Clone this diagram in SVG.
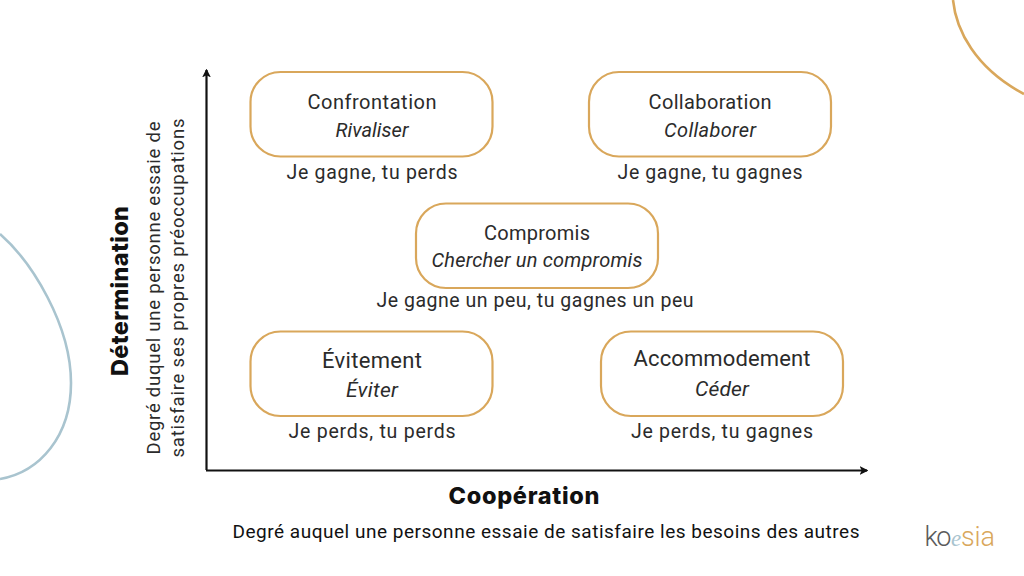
<svg xmlns="http://www.w3.org/2000/svg" width="1024" height="576" viewBox="0 0 1024 576">
<style>
text{font-family:Roboto,"Liberation Sans",sans-serif;fill:#2b2b2b;text-anchor:middle}
.box{fill:#fff;stroke:#d9a75b;stroke-width:2.2}
.t{font-size:20px}
.i{font-size:20px;font-style:italic}
.l{font-size:19.500px}
.h{font-family:"Inter","Liberation Sans",sans-serif;font-weight:800;font-size:23.500px;fill:#111}
.s{font-size:18.500px}
.axis{fill:none;stroke:#111;stroke-width:2.2}
</style>
<defs>
<marker id="ah" viewBox="0 0 10 10" refX="8.500" refY="5" markerWidth="4" markerHeight="4" orient="auto-start-reverse" markerUnits="strokeWidth"><path d="M0 0L10 5L0 10L2.500 5Z" fill="#111"/></marker>
</defs>
<rect width="1024" height="576" fill="#fff"/>
<g id="decor" fill="none" stroke-width="2.600">
<path d="M0 234C32 262 71 325 71 383C71 436 40 472 0 479" stroke="#a9c4cf"/>
<path d="M953 0C956 30 975 68 1024 94" stroke="#d9a75b"/>
</g>
<g id="connectors">
<path class="axis" d="M206.500 470V70" marker-end="url(#ah)"/>
<path class="axis" d="M206 470.500H867" marker-end="url(#ah)"/>
</g>
<g id="confrontation"><rect class="box" x="250.500" y="72" width="242" height="84.500" rx="30"/>
<text class="t" x="372" y="108.500" textLength="129">Confrontation</text><text class="i" x="372" y="137" textLength="73">Rivaliser</text>
<text class="l" x="372" y="178.500" textLength="171">Je gagne, tu perds</text></g>
<g id="collaboration"><rect class="box" x="589" y="72" width="242" height="84.500" rx="30"/>
<text class="t" x="710" y="108.500" textLength="123">Collaboration</text><text class="i" x="710" y="137" textLength="92">Collaborer</text>
<text class="l" x="710" y="178.500" textLength="185">Je gagne, tu gagnes</text></g>
<g id="compromis"><rect class="box" x="416" y="203.500" width="242" height="84.500" rx="30"/>
<text class="t" x="537" y="239.500" textLength="106">Compromis</text><text class="i" x="537" y="267" textLength="211">Chercher un compromis</text>
<text class="l" x="535" y="306.500" textLength="317">Je gagne un peu, tu gagnes un peu</text></g>
<g id="evitement"><rect class="box" x="250.500" y="331.500" width="242" height="84.500" rx="30"/>
<text class="t" x="372" y="368" textLength="100" style="font-size:22px">Évitement</text><text class="i" x="372" y="397" textLength="52" style="font-size:21px">Éviter</text>
<text class="l" x="372" y="437.500" textLength="167">Je perds, tu perds</text></g>
<g id="accommodement"><rect class="box" x="601" y="331.500" width="242" height="84.500" rx="30"/>
<text class="t" x="722" y="366" textLength="177" style="font-size:22px">Accommodement</text><text class="i" x="722" y="396" textLength="54" style="font-size:21px">Céder</text>
<text class="l" x="722" y="437.500" textLength="182">Je perds, tu gagnes</text></g>
<g id="y-label">
<text class="h" transform="translate(128 291) rotate(-90)" textLength="170">Détermination</text>
<text class="s" transform="translate(160 288) rotate(-90)" textLength="333">Degré duquel une personne essaie de</text>
<text class="s" transform="translate(184 288) rotate(-90)" textLength="339">satisfaire ses propres préoccupations</text>
</g>
<g id="x-label">
<text class="h" x="524" y="504" textLength="151">Coopération</text>
<text class="s" x="546" y="537.500" textLength="627" style="font-size:19px;fill:#111">Degré auquel une personne essaie de satisfaire les besoins des autres</text>
</g>
<g id="logo" style="font-family:'Open Sans',sans-serif;font-size:27px;font-weight:300">
<text x="938" y="546" textLength="27" style="fill:#5b5b5b">ko</text>
<text x="956" y="546" style="fill:#a9c4cf;font-family:'Liberation Serif',serif;font-style:italic;font-size:23px">e</text>
<text x="978" y="546" textLength="34" style="fill:#d9a75b">sia</text>
</g>
</svg>
